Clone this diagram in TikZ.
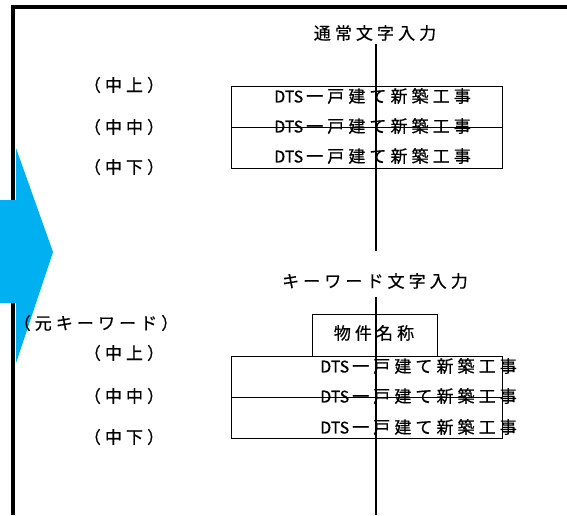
\documentclass[tikz,border=0pt]{standalone}
\usepackage{fontspec}
\newfontfamily\jp[LetterSpace=24,FakeBold=0.6]{Noto Sans CJK JP}
\newfontfamily\jpn[FakeBold=0.6]{Noto Sans CJK JP}
\definecolor{arrowblue}{HTML}{00B0F0}
\tikzset{
    lbl/.style={font=\jp\fontsize{17}{17}\selectfont, inner sep=0pt},
    rowbox/.style={draw, line width=1pt, minimum width=271pt, minimum height=41pt, inner sep=0pt},
}
\newcommand{\bukken}{{\jpn\fontsize{16}{16}\selectfont DTS}\kern3pt 一戸建て新築工事}
\begin{document}
\begin{tikzpicture}[x=1pt,y=-1pt]
        \useasboundingbox (0,0) rectangle (567,515);
        \draw[line width=4pt] (13,515) -- (13,7) -- (567,7);
        \fill[arrowblue] (0,200) -- (16,200) -- (16,148) -- (53,252) -- (16,363) -- (16,303) -- (0,303) -- cycle;

        \node[lbl] (title1) at (375,33) {通常文字入力};
        \node[rowbox] (box1a) at (366.5,107) {};
        \node[rowbox] (box1b) at (366.5,148) {};
        \coordinate (v1bot) at (376,251);
        \draw[line width=1.2pt] (376,44) -- (v1bot);
        \node[lbl] (t1a) at (372.5,96) {\bukken};
        \node[lbl] (t1b) at (372.5,126) {\bukken};
        \node[lbl] (t1c) at (372.5,156) {\bukken};
        \node[lbl] (l1a) at (124,85) {（中上）};
        \node[lbl] (l1b) at (124,127) {（中中）};
        \node[lbl] (l1c) at (124,167) {（中下）};

        \node[lbl] (title2) at (375,281) {キーワード文字入力};
        \node[draw, line width=1pt, minimum width=125pt, minimum height=42pt] (name) at (375,335) {};
        \node[lbl] at (374,333) {物件名称};
        \node[rowbox] (box2a) at (366.5,377) {};
        \node[rowbox] (box2b) at (366.5,418) {};
        \coordinate (v2bot) at (376,515);
        \draw[line width=1.2pt] (376,297) -- (v2bot);
        \node[lbl] (t2a) at (418.5,366) {\bukken};
        \node[lbl] (t2b) at (418.5,396) {\bukken};
        \node[lbl] (t2c) at (418.5,427) {\bukken};
        \node[lbl] (l2k) at (96,323) {（元キーワード）};
        \node[lbl] (l2a) at (124,353) {（中上）};
        \node[lbl] (l2b) at (124,396) {（中中）};
        \node[lbl] (l2c) at (124,437) {（中下）};
    \end{tikzpicture}
\end{document}
